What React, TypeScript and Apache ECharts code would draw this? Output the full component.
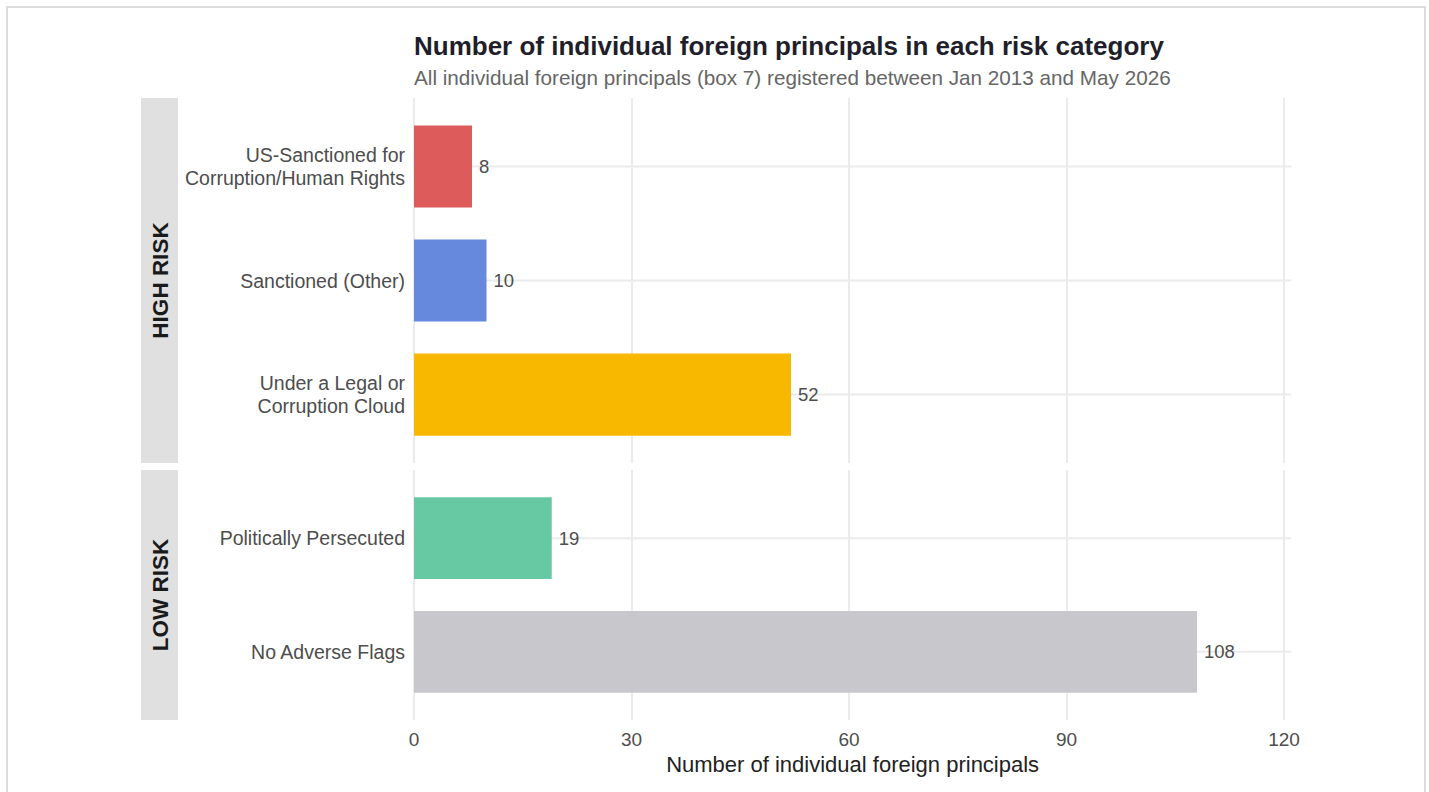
import React, { useEffect, useRef } from "react";
import * as echarts from "echarts";

// Facet: HIGH RISK
const highCategories = [
  "US-Sanctioned for\nCorruption/Human Rights",
  "Sanctioned (Other)",
  "Under a Legal or\nCorruption Cloud",
];
const highValues = [8, 10, 52];
const highColors = ["#DE5B5B", "#6688DD", "#F9B800"];

// Facet: LOW RISK
const lowCategories = ["Politically Persecuted", "No Adverse Flags"];
const lowValues = [19, 108];
const lowColors = ["#66C9A4", "#C8C8CC"];

const xTicks = [0, 30, 60, 90, 120];
const facetLabels = ["HIGH RISK", "LOW RISK"];

const titleText = "Number of individual foreign principals in each risk category";
const subtitleText =
  "All individual foreign principals (box 7) registered between Jan 2013 and May 2026";
const xAxisTitle = "Number of individual foreign principals";

const FONT = "'Liberation Sans', Arial, Helvetica, sans-serif";
const GRID_COLOR = "#ebebeb";

// Layout of the two panels (pixels)
const PANEL_LEFT = 414;
const PX_PER_UNIT = 7.25;
const X_LIMIT = 121; // panel extends slightly past the last tick
const panels = [
  { top: 98, bottom: 463, n: highCategories.length },
  { top: 470, bottom: 720, n: lowCategories.length },
];

function buildOption() {
  const tickMin = xTicks[0];
  const tickMax = xTicks[xTicks.length - 1];
  const tickStep = xTicks[1] - xTicks[0];

  const grids: any[] = [];
  const xAxes: any[] = [];
  const yAxes: any[] = [];
  const series: any[] = [];
  const graphics: any[] = [];

  const facets = [
    { cats: highCategories, vals: highValues, colors: highColors },
    { cats: lowCategories, vals: lowValues, colors: lowColors },
  ];

  facets.forEach((f, k) => {
    const p = panels[k];
    const h = p.bottom - p.top;
    const unit = h / (p.n - 1 + 1.2);
    const isLast = k === facets.length - 1;

    // background grid: vertical grid lines across the full panel
    const bgIdx = grids.length;
    grids.push({
      left: PANEL_LEFT,
      top: p.top,
      width: (tickMax - tickMin) * PX_PER_UNIT,
      height: h,
      containLabel: false,
    });
    xAxes.push({
      gridIndex: bgIdx,
      type: "value",
      min: tickMin,
      max: tickMax,
      interval: tickStep,
      axisLine: { show: false },
      axisTick: { show: false },
      axisLabel: {
        show: isLast,
        fontSize: 19,
        color: "#4d4d4d",
        fontFamily: FONT,
        margin: 10,
      },
      splitLine: { show: true, lineStyle: { color: GRID_COLOR, width: 2 } },
    });
    yAxes.push({ gridIndex: bgIdx, type: "value", show: false, min: 0, max: 1 });

    // bar grid: category bands
    const barIdx = grids.length;
    grids.push({
      left: PANEL_LEFT,
      top: p.top + 0.1 * unit,
      width: X_LIMIT * PX_PER_UNIT,
      height: p.n * unit,
      containLabel: false,
    });
    xAxes.push({
      gridIndex: barIdx,
      type: "value",
      min: tickMin,
      max: X_LIMIT,
      show: isLast,
      axisLine: { show: false },
      axisTick: { show: false },
      axisLabel: { show: false },
      splitLine: { show: false },
      name: isLast ? xAxisTitle : "",
      nameLocation: "middle",
      nameGap: 45,
      nameTextStyle: { fontSize: 22, color: "#222222", fontFamily: FONT },
    });
    yAxes.push({
      gridIndex: barIdx,
      type: "category",
      inverse: true,
      data: f.cats,
      axisLine: { show: false },
      axisTick: { show: false },
      splitLine: { show: false },
      axisLabel: {
        fontSize: 19.5,
        lineHeight: 23,
        color: "#4d4d4d",
        fontFamily: FONT,
        margin: 9,
        align: "right",
        padding: [3, 0, 0, 0],
      },
    });

    // horizontal grid lines at category centres, drawn beneath the bars
    f.cats.forEach((_, i) => {
      series.push({
        type: "line",
        xAxisIndex: barIdx,
        yAxisIndex: barIdx,
        data: [
          [tickMin, i],
          [X_LIMIT, i],
        ],
        z: 1,
        silent: true,
        symbol: "none",
        showSymbol: false,
        lineStyle: { color: GRID_COLOR, width: 2 },
        emphasis: { disabled: true },
      });
    });

    series.push({
      type: "bar",
      xAxisIndex: barIdx,
      yAxisIndex: barIdx,
      z: 3,
      barWidth: "72%",
      data: f.vals.map((v, i) => ({ value: v, itemStyle: { color: f.colors[i] } })),
      label: {
        show: true,
        position: "right",
        distance: 7,
        fontSize: 18.5,
        color: "#4d4d4d",
        fontFamily: FONT,
      },
    });

    // facet strip
    graphics.push({
      type: "rect",
      shape: { x: 141, y: p.top, width: 37, height: h },
      style: { fill: "#e0e0e0" },
      silent: true,
    });
    graphics.push({
      type: "text",
      x: 160,
      y: (p.top + p.bottom) / 2,
      rotation: Math.PI / 2,
      style: {
        text: facetLabels[k],
        fontSize: 22.5,
        fontWeight: "bold",
        fill: "#1a1a1a",
        fontFamily: FONT,
        align: "center",
        verticalAlign: "middle",
      },
      silent: true,
    });
  });

  return {
    animation: false,
    backgroundColor: "transparent",
    title: [
      {
        text: titleText,
        left: PANEL_LEFT - 5,
        top: 28,
        textStyle: { fontSize: 26, fontWeight: "bold", color: "#1f1f2b", fontFamily: FONT },
      },
      {
        text: subtitleText,
        left: PANEL_LEFT - 5,
        top: 62,
        textStyle: { fontSize: 20.7, fontWeight: "normal", color: "#666666", fontFamily: FONT },
      },
    ],
    grid: grids,
    xAxis: xAxes,
    yAxis: yAxes,
    series,
    graphic: graphics,
  };
}

export default function App() {
  const ref = useRef<HTMLDivElement>(null);

  useEffect(() => {
    if (!ref.current) return;
    const chart = echarts.init(ref.current, undefined, { renderer: "svg" });
    chart.setOption(buildOption() as any);
    return () => chart.dispose();
  }, []);

  return (
    <div style={{ position: "absolute", left: 0, top: 0, width: 1429, height: 792, overflow: "hidden", background: "#ffffff" }}>
      <div
        style={{
          position: "absolute",
          left: 6,
          top: 6,
          width: 1420,
          height: 800,
          boxSizing: "border-box",
          border: "2px solid #dcdcdc",
        }}
      />
      <div ref={ref} style={{ position: "absolute", left: 0, top: 0, width: 1429, height: 792 }} />
    </div>
  );
}
